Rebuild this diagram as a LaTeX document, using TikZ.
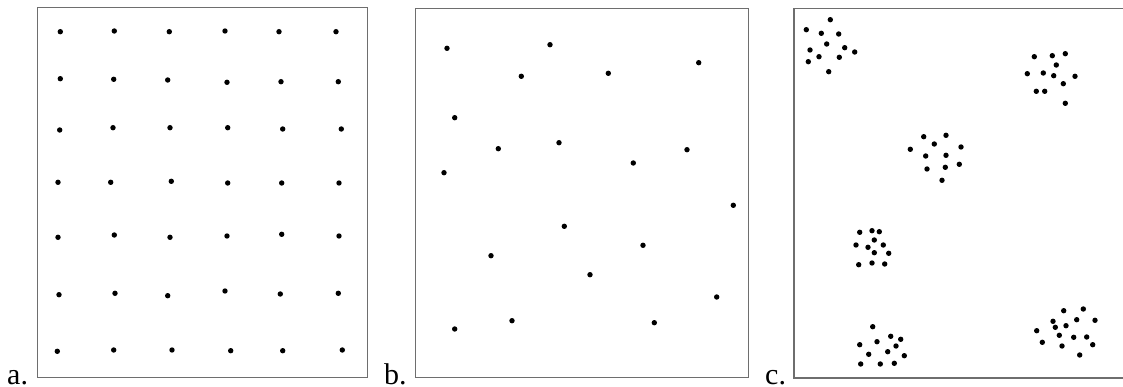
\documentclass[tikz,border=0pt]{standalone}
\usepackage{fontspec}
\setmainfont{Liberation Serif}
\usepackage{xcolor}
\definecolor{framegray}{RGB}{110,110,110}

\begin{document}
\begin{tikzpicture}[
  x=1pt, y=-1pt,
  frame/.style={draw=framegray, line width=1.1pt},
  dot/.style={fill=black},
  lbl/.style={anchor=base west, inner sep=0pt, font=\fontsize{30}{32}\selectfont},
]
\useasboundingbox (0,0) rectangle (1123,387);
% panel a: regular grid
\draw[frame] (37.3,7.3) rectangle (367.7,377.7);
\node[lbl] (labA) at (7,384) {a.};
\foreach \px/\py in {60.3/31.7,114.3/31,169.3/31.7,225/31,279/31.7,336/31.7,
  60.3/78.7,113.7/79.3,167.7/80,227/82.3,281/81.7,338.3/81.7,
  59.7/130,113/127.7,170/127.7,227.7/127.7,282.7/129,341.3/129,
  58/182.3,110.7/182.3,171.3/181.3,227.7/183,281.7/183,339/183,
  58/237.3,114.3/235,170/237.3,227/236,281.7/234.3,339/236,
  59/294.7,115/293.3,167.7/295.7,225/291,280.3/294,338.3/293.3,
  57.3/351.3,113.7/350,172/350,230.7/350.7,282.7/350.7,342.3/350}
  \fill[dot] (\px,\py) circle (2.7);
% panel b: random
\draw[frame] (415.3,8.3) rectangle (748.3,377.7);
\node[lbl] (labB) at (384,384) {b.};
\foreach \px/\py in {447/48.3,550/44.7,521.3/76.3,608.3/73.3,698.7/62.7,
  454.7/117.7,498.3/148.7,559/142.7,687/149.7,633.3/163,444/172.7,
  733.3/205.3,564.3/226.3,643/245.3,491/255.7,590/274.7,716.7/297,
  512/320.7,454.7/329,654.3/322.7}
  \fill[dot] (\px,\py) circle (2.7);
% panel c: clustered
\draw[frame] (1123,8.3) -- (794,8.3) -- (794,378) -- (1123,378);
\node[lbl] (labC) at (765,384) {c.};
\foreach \px/\py in {830.3/19.7,806.3/29.7,821.3/33.3,838.7/34,826.7/44,844.7/47.7,
  810/50,854.7/52,819/56.7,839.3/57.3,808.3/61.7,828.7/71.7,
  1034.3/56.7,1052.3/55.7,1065.3/53.7,1056.3/65,1027.3/73.7,1043.3/73,
  1053.7/75.7,1075/76.3,1063.3/83.7,1036.3/91.3,1044.7/91.3,1065.3/103.3,
  923.7/136.7,946/135.3,934.3/144,961/147,910.3/149.3,925.7/156,
  946/155.3,927/169,945.3/167.3,959.3/164.3,942/180.3,
  859.7/232.3,872/230.7,879.3/231.7,874.3/240,856/245,868/247.3,
  883.3/245,874.3/252.7,888.7/253.3,858.7/264.7,872/263,884.7/264,
  872.7/326.7,890.7/336.3,900.7/339.3,859.7/344.7,877/341.7,896/346,
  887.7/351.7,868.7/354.3,904.3/355.7,860.7/364,880.3/364,894.3/363.3,
  1063.7/310.7,1083.3/309,1053/321.3,1076.7/319.7,1095/320.3,1055.3/327.3,
  1066/325.7,1036.7/330.7,1059.3/335.3,1073.7/337.3,1086.7/337,
  1042.3/342.3,1062/346,1092.7/344.7,1079.7/355}
  \fill[dot] (\px,\py) circle (2.7);
\end{tikzpicture}
\end{document}
